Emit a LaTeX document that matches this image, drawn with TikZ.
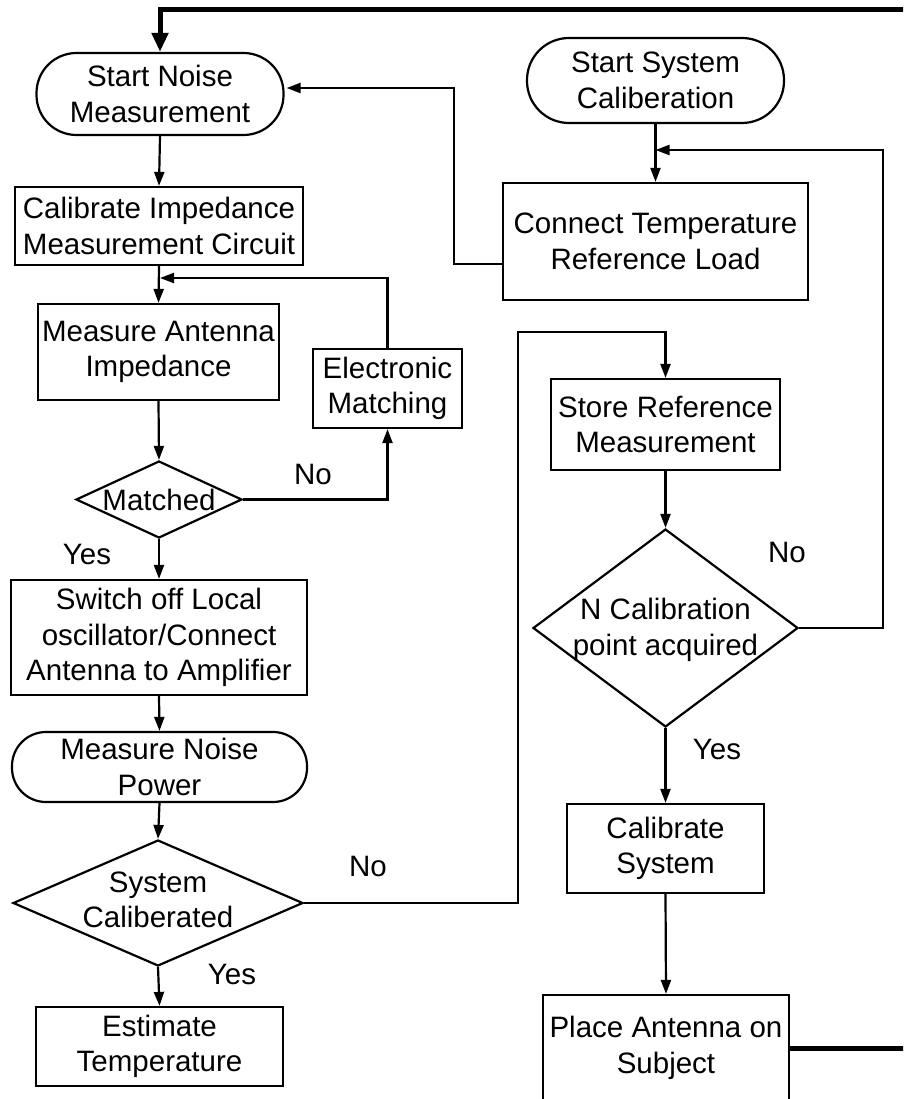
\documentclass[tikz,border=0pt]{standalone}
\usepackage{fontspec}
\setmainfont{Liberation Sans}
\usetikzlibrary{shapes.geometric,arrows.meta}
\begin{document}
\begin{tikzpicture}[x=1pt,y=-1pt,
  every node/.style={font=\fontsize{29.5}{35.5}\selectfont, inner sep=0pt, align=center},
  box/.style={draw, line width=2.2pt},
  stadium/.style={box, rounded corners=#1},
  decision/.style={draw, diamond, line width=2.2pt},
  lbl/.style={},
  arr/.style={line width=2.2pt, -{Triangle[length=14pt,width=10pt]}},
  thickarr/.style={line width=5pt, -{Triangle[length=19pt,width=16pt]}}]
\clip (0,0) rectangle (903,1099);
\fill[white] (0,0) rectangle (903,1099);
% left column
\node[stadium=40pt, minimum width=247pt, minimum height=82pt] (sn) at (160,94) {Start Noise\\Measurement};
\node[box, minimum width=288pt, minimum height=78pt] (ci) at (159,226) {Calibrate Impedance\\Measurement Circuit};
\node[box, minimum width=241pt, minimum height=96pt] (ma) at (158.5,352) {Measure Antenna\\Impedance};
\node[box, minimum width=149pt, minimum height=79pt] (em) at (387.5,388.5) {Electronic\\Matching};
\node[decision, minimum width=166pt, minimum height=77pt] (md) at (159,499.5) {};
\node (mdt) at (md.center) {Matched};
\node[box, minimum width=296pt, minimum height=115pt] (so) at (159,637.5) {Switch off Local\\oscillator/Connect\\Antenna to Amplifier};
\node[stadium=34pt, minimum width=295pt, minimum height=70pt] (mn) at (159.5,767) {Measure Noise\\Power};
\node[decision, minimum width=290pt, minimum height=126pt] (sc) at (158,903) {};
\node (sct) at (158,900) {System\\Caliberated};
\node[box, minimum width=247pt, minimum height=79pt] (et) at (159.5,1046.5) {Estimate\\Temperature};
% right column
\node[stadium=42pt, minimum width=257pt, minimum height=85pt] (ss) at (655.5,80.5) {Start System\\Caliberation};
\node[box, minimum width=305pt, minimum height=117pt] (ct) at (655.5,241.5) {Connect Temperature\\Reference Load};
\node[box, minimum width=229pt, minimum height=91pt] (sr) at (665.5,424.5) {Store Reference\\Measurement};
\node[decision, minimum width=265pt, minimum height=198pt] (nc) at (665.5,628) {};
\node (nct) at (665.5,630) {N Calibration\\point acquired};
\node[box, minimum width=197pt, minimum height=89pt] (cs) at (665.5,848.5) {Calibrate\\System};
\node[box, minimum width=246pt, minimum height=106pt] (pa) at (666,1048) {Place Antenna on\\Subject};
% labels
\node[lbl] at (313,474) {No};
\node[lbl] at (87,554) {Yes};
\node[lbl] at (368,866) {No};
\node[lbl] at (232,974) {Yes};
\node[lbl] at (787,552) {No};
\node[lbl] at (717,749) {Yes};
% helper coordinates
\coordinate (j1) at (160,278);
\coordinate (c1) at (518,332);
\coordinate (c2) at (883,150);
\coordinate (j2) at (655.5,150);
\coordinate (c3) at (454,88);
\coordinate (c4) at (0,264);
\coordinate (br) at (925,1048);
\coordinate (tr) at (925,10);
% connectors
\draw[arr] (sn.south) -- (ci.north);
\draw[arr] (ci.south) -- (ma.north);
\draw[arr] (em.north) |- (j1);
\draw[arr] (ma.south) -- (md.north);
\draw[arr] (md.east) -| (em.south);
\draw[arr] (md.south) -- (so.north);
\draw[arr] (so.south) -- (mn.north);
\draw[arr] (mn.south) -- (sc.north);
\draw[arr] (sc.south) -- (et.north);
\draw[arr] (sc.east) -| (c1) -| (sr.north);
\draw[arr] (ss.south) -- (ct.north);
\draw[arr] (nc.east) -| (c2) -- (j2);
\draw[arr] (ct.west |- c4) -| (c3) -- ([xshift=2pt]sn.east |- c3);
\draw[arr] (sr.south) -- (nc.north);
\draw[arr] (nc.south) -- (cs.north);
\draw[arr] (cs.south) -- (pa.north);
\draw[thickarr] (pa.east) -- (br) -- (tr) -| (sn.north);
\end{tikzpicture}
\end{document}
